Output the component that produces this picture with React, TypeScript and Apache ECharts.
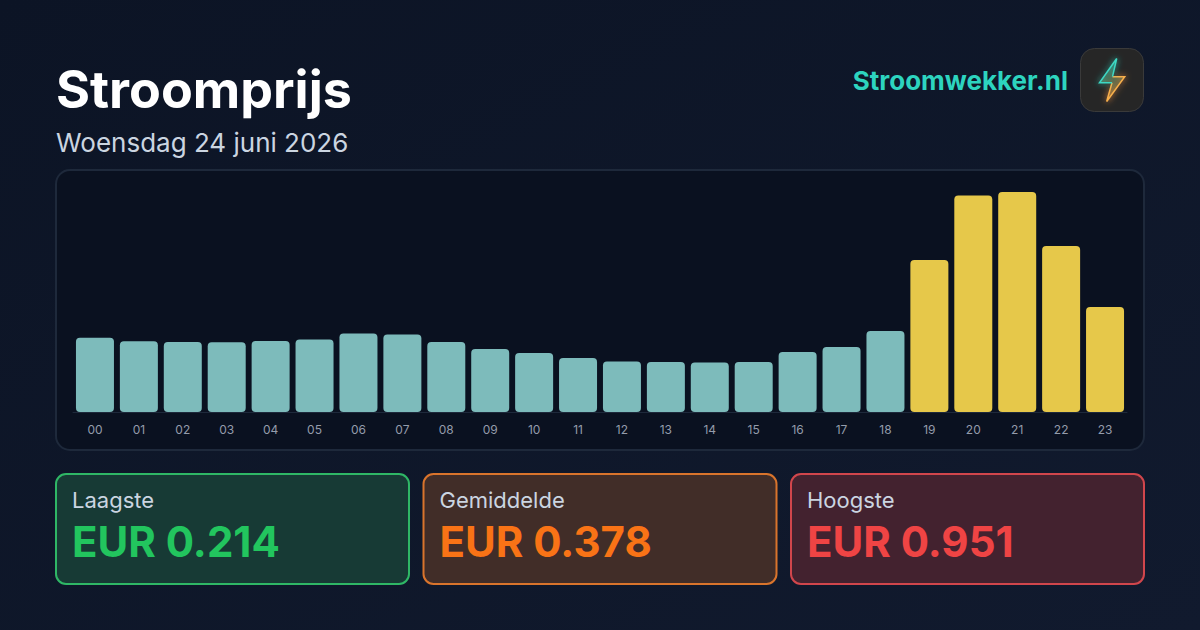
import React, { useEffect, useRef } from "react";
import * as echarts from "echarts";

const hours = ["00", "01", "02", "03", "04", "05", "06", "07", "08", "09", "10", "11", "12", "13", "14", "15", "16", "17", "18", "19", "20", "21", "22", "23"];
const prices = [0.321, 0.306, 0.303, 0.301, 0.307, 0.313, 0.339, 0.335, 0.303, 0.272, 0.255, 0.233, 0.218, 0.216, 0.214, 0.216, 0.259, 0.281, 0.35, 0.657, 0.936, 0.951, 0.718, 0.454];
const cardLabels = ["Laagste", "Gemiddelde", "Hoogste"];
const cardValues = ["EUR 0.214", "EUR 0.378", "EUR 0.951"];
const cardColors = ["#22c55e", "#f97316", "#ef4444"];
const cardBorders = ["#2fb766", "#d9742c", "#d1464c"];
const cardFills = ["#173a35", "#412d28", "#43222f"];
const cardLefts = [56, 423.5, 791];
const expensiveFrom = 0.4;

const font = "Inter, sans-serif";

const App = () => {
  const chartRef = useRef<HTMLDivElement>(null);

  useEffect(() => {
    if (!chartRef.current) return;
    const myChart = echarts.init(chartRef.current, null, { renderer: "svg" });

    const cards: any[] = [];
    cardLabels.forEach((label, i) => {
      cards.push({
        type: "rect",
        shape: { x: cardLefts[i], y: 474, width: 353, height: 110, r: 10 },
        style: { fill: cardFills[i], stroke: cardBorders[i], lineWidth: 2 },
      });
      cards.push({
        type: "text",
        x: cardLefts[i] + 16,
        y: 500,
        style: { text: label, font: `400 22px ${font}`, fill: "#cbd5e1", textVerticalAlign: "middle" },
      });
      cards.push({
        type: "text",
        x: cardLefts[i] + 16,
        y: 541,
        style: { text: cardValues[i], font: `700 42px ${font}`, fill: cardColors[i], textVerticalAlign: "middle" },
      });
    });

    const boltPoints = [
      [1116.7, 58.5],
      [1099.5, 82.7],
      [1112, 82.7],
      [1106.7, 101.5],
      [1124.7, 76.7],
      [1112.5, 76.7],
    ];
    const boltTeal = [boltPoints[5], boltPoints[0], boltPoints[1], boltPoints[2]];
    const boltOrange = [boltPoints[2], boltPoints[3], boltPoints[4], boltPoints[5]];

    const option = {
      animation: false,
      backgroundColor: {
        type: "linear",
        x: 0,
        y: 0,
        x2: 1,
        y2: 1,
        colorStops: [
          { offset: 0, color: "#0c1425" },
          { offset: 1, color: "#111a2e" },
        ],
      },
      grid: { left: 73, right: 73, top: 192, bottom: 218 },
      xAxis: {
        type: "category",
        data: hours,
        axisTick: { show: false },
        axisLine: { lineStyle: { color: "#1e293b", width: 1 } },
        axisLabel: { color: "#949cab", fontSize: 12, fontFamily: font, margin: 11 },
      },
      yAxis: { type: "value", min: 0, max: 0.951, show: false },
      series: [
        {
          type: "bar",
          data: prices,
          barWidth: 38,
          itemStyle: {
            borderRadius: 4,
            color: (p: any) => (p.value > expensiveFrom ? "#e6c84a" : "#7dbbbb"),
          },
        },
      ],
      graphic: [
        {
          type: "group",
          z: 0,
          children: [
            {
              type: "rect",
              shape: { x: 56, y: 170, width: 1088, height: 280, r: 14 },
              style: { fill: "#0a1120", stroke: "#1e293b", lineWidth: 2 },
            },
            {
              type: "text",
              x: 56,
              y: 89.5,
              style: { text: "Stroomprijs", font: `700 52px ${font}`, fill: "#ffffff", textVerticalAlign: "middle" },
            },
            {
              type: "text",
              x: 56,
              y: 142,
              style: { text: "Woensdag 24 juni 2026", font: `400 26px ${font}`, fill: "#cbd5e1", textVerticalAlign: "middle" },
            },
            {
              type: "text",
              x: 1068,
              y: 80,
              style: { text: "Stroomwekker.nl", font: `700 26px ${font}`, fill: "#2dd4bf", textAlign: "right", textVerticalAlign: "middle" },
            },
            {
              type: "rect",
              shape: { x: 1080.5, y: 48.5, width: 63, height: 63, r: 14 },
              style: { fill: "#262626", stroke: "#3a3a3a", lineWidth: 1 },
            },
            {
              type: "polygon",
              shape: { points: boltPoints },
              style: {
                fill: {
                  type: "linear",
                  x: 0,
                  y: 0,
                  x2: 0,
                  y2: 1,
                  colorStops: [
                    { offset: 0, color: "rgba(45,212,191,0.35)" },
                    { offset: 1, color: "rgba(251,176,60,0.4)" },
                  ],
                },
              },
            },
            {
              type: "polyline",
              shape: { points: boltOrange },
              style: { fill: "none", stroke: "#f8b04c", lineWidth: 1.5, shadowBlur: 6, shadowColor: "rgba(251,146,60,0.95)" },
            },
            {
              type: "polyline",
              shape: { points: boltTeal },
              style: { fill: "none", stroke: "#3dd8c4", lineWidth: 1.5, shadowBlur: 6, shadowColor: "rgba(45,212,191,0.95)" },
            },
            ...cards,
          ],
        },
      ],
    };

    myChart.setOption(option);
    return () => {
      myChart.dispose();
    };
  }, []);

  return <div ref={chartRef} style={{ position: "fixed", left: 0, top: 0, width: 1200, height: 630 }} />;
};

export default App;
